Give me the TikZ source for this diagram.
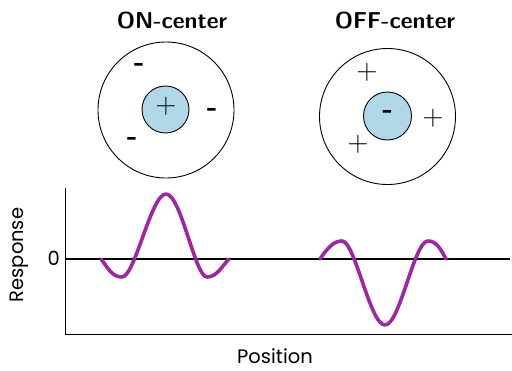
\documentclass[tikz,border=0pt]{standalone}
\usepackage{fontspec}
\newfontfamily\axisfont{Poppins}
\definecolor{curvepurple}{RGB}{158,38,160}
\definecolor{centerblue}{RGB}{176,216,232}
\tikzset{
  lbl/.style={font=\fontsize{19.5}{23}\selectfont\axisfont, inner sep=0pt},
  plussign/.style={font=\fontsize{29}{33}\selectfont\sffamily, inner sep=0pt},
  minussign/.style={font=\fontsize{19}{23}\selectfont\axisfont\bfseries, inner sep=0pt},
  ttl/.style={font=\fontsize{23}{27}\selectfont\sffamily\bfseries, inner sep=0pt},
  outer/.style={draw=black, line width=0.9pt, circle, inner sep=0pt},
  inner/.style={draw=black, line width=0.9pt, fill=centerblue, circle, inner sep=0pt},
  resp/.style={draw=curvepurple, line width=3.6pt, line cap=round, line join=round},
}
\begin{document}
\begin{tikzpicture}[x=1pt,y=-1pt]
\useasboundingbox (0,0) rectangle (512,370);
% ON-center
\node[ttl] (ontitle) at (172,21) {ON-center};
\node[outer, minimum size=136pt] (onout) at (166,110) {};
\node[inner, minimum size=47pt] (onin) at (165.5,109.5) {};
\node[plussign] (onc) at (166,106) {+};
\node[minussign] (onm1) at (139,67.5) {-};
\node[minussign] (onm2) at (212,112.5) {-};
\node[minussign] (onm3) at (132,141.5) {-};
% OFF-center
\node[ttl] (offtitle) at (395,21) {OFF-center};
\node[outer, minimum size=136pt] (offout) at (387.5,116.5) {};
\node[inner, minimum size=48pt] (offin) at (387.5,116) {};
\node[minussign] (offc) at (387.5,114.5) {-};
\node[plussign] (offp1) at (367,72) {+};
\node[plussign] (offp2) at (433,118) {+};
\node[plussign] (offp3) at (358,144) {+};
% axes
\coordinate (ytop) at (65,188);
\coordinate (orig) at (65,334);
\coordinate (xend) at (512,334);
\coordinate (zl) at (65,259);
\coordinate (zr) at (510,259);
\draw[line width=0.9pt] (ytop) -- (orig) -- (xend);
\draw[line width=2.4pt] (zl) -- (zr);
\node[lbl, anchor=east] (zero) at (60,258) {0};
\node[lbl, rotate=90] (ylab) at (19,255) {Response};
\node[lbl] (xlab) at (275,356) {Position};
% ON response
\draw[resp] (101,259) .. controls (108,268) and (112,277) .. (122,277)
  .. controls (135,277) and (151,194) .. (166,194)
  .. controls (181,194) and (195,277) .. (207,277)
  .. controls (217,277) and (222,266) .. (229,259);
% OFF response
\draw[resp] (320,259) .. controls (327,249) and (333,241) .. (342,241)
  .. controls (355,241) and (370,325) .. (385,325)
  .. controls (400,325) and (414,241) .. (428,241)
  .. controls (437,241) and (441,250) .. (446,259);
\end{tikzpicture}
\end{document}
